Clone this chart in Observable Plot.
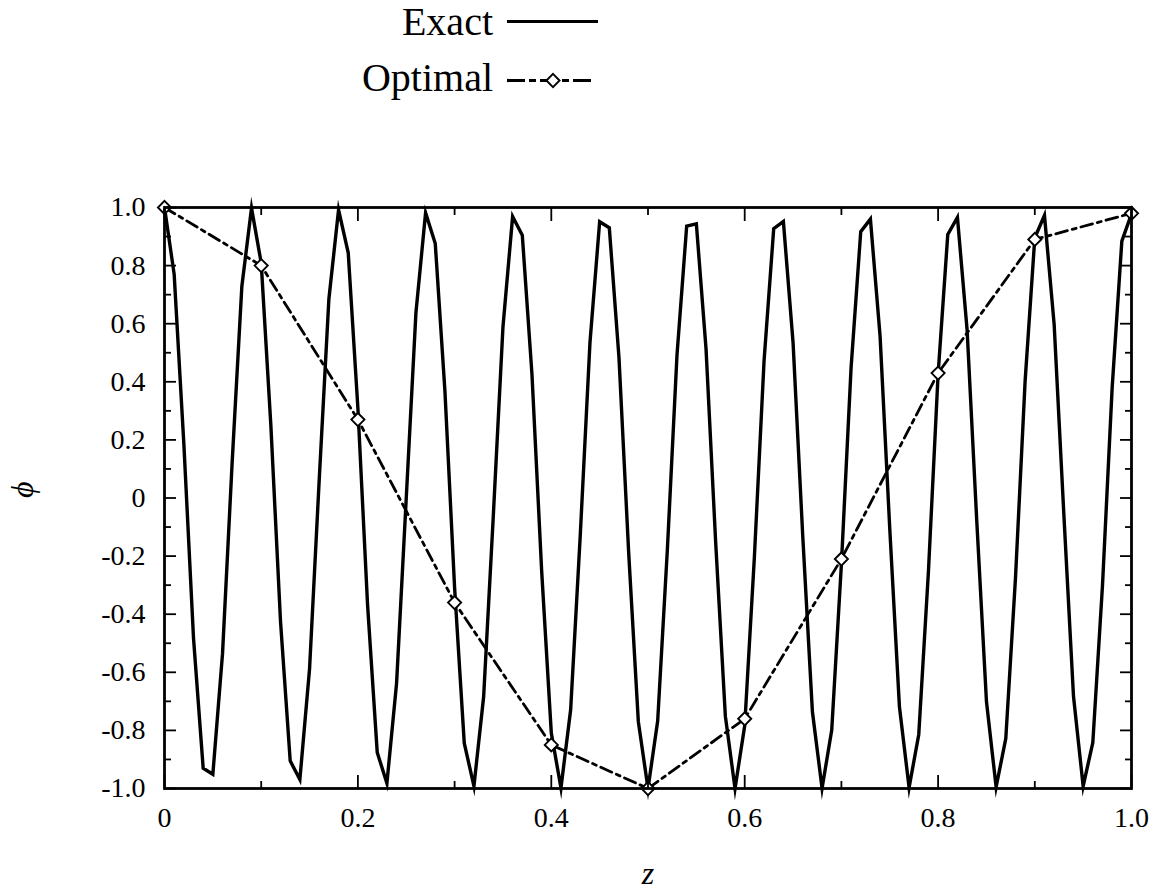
<!DOCTYPE html>
<html>
<head>
<meta charset="utf-8">
<script src="https://cdn.jsdelivr.net/npm/d3@7"></script>
<script src="https://cdn.jsdelivr.net/npm/@observablehq/plot@0.6"></script>
<style>
  html, body { margin: 0; padding: 0; background: #fff; }
  #wrap { position: relative; width: 1153px; height: 895px; font-family: "Liberation Serif", "Times New Roman", serif; }
  #chart, #legend { position: absolute; left: 0; top: 0; }
</style>
</head>
<body>
<div id="wrap">
  <div id="chart"></div>
  <svg id="legend" width="1153" height="110"></svg>
</div>
<script>
// Exact solution, sampled every 0.01 in z
const exactPhi = [
  1.000, 0.770, 0.187, -0.482, -0.930, -0.951, -0.536, 0.125, 0.729, 0.998,
  0.809, 0.249, -0.426, -0.905, -0.969, -0.588, 0.063, 0.685, 0.992, 0.844,
  0.309, -0.368, -0.876, -0.982, -0.637, 0.000, 0.637, 0.982, 0.876, 0.368,
  -0.309, -0.844, -0.992, -0.685, -0.063, 0.588, 0.969, 0.905, 0.426, -0.249,
  -0.809, -0.998, -0.729, -0.125, 0.536, 0.951, 0.930, 0.482, -0.187, -0.770,
  -1.000, -0.768, -0.179, 0.493, 0.936, 0.944, 0.514, -0.154, -0.751, -1.000,
  -0.784, -0.204, 0.471, 0.927, 0.952, 0.536, -0.129, -0.735, -0.999, -0.799,
  -0.228, 0.448, 0.917, 0.960, 0.557, -0.105, -0.718, -0.997, -0.814, -0.253,
  0.426, 0.907, 0.966, 0.578, -0.080, -0.700, -0.995, -0.828, -0.277, 0.403,
  0.896, 0.973, 0.598, -0.054, -0.682, -0.992, -0.842, -0.301, 0.380, 0.884,
  0.978
];
const exactZ = d3.range(exactPhi.length).map(i => i / 100);

// Optimal approximation at the nodes
const optimalZ = [0, 0.1, 0.2, 0.3, 0.4, 0.5, 0.6, 0.7, 0.8, 0.9, 1.0];
const optimalPhi = [1.0, 0.80, 0.27, -0.36, -0.85, -1.0, -0.76, -0.21, 0.43, 0.89, 0.98];

// Tick positions
const xMajor = [0, 0.2, 0.4, 0.6, 0.8, 1.0];
const xMinor = [0.1, 0.3, 0.5, 0.7, 0.9];
const yMajor = [-1.0, -0.8, -0.6, -0.4, -0.2, 0, 0.2, 0.4, 0.6, 0.8, 1.0];
const yMinor = [-0.9, -0.7, -0.5, -0.3, -0.1, 0.1, 0.3, 0.5, 0.7, 0.9];

const legendLabels = ["Exact", "Optimal"];
const xLabel = "z";
const yLabel = "ϕ";

const exact = exactZ.map((z, i) => ({z, phi: exactPhi[i]}));
const optimal = optimalZ.map((z, i) => ({z, phi: optimalPhi[i]}));

const fmt = d => Math.abs(d) < 1e-9 ? "0" : d.toFixed(1);
const font = "'Liberation Serif', 'Times New Roman', serif";
const dashDot = "12,5,4,5";

const tickOpts = {strokeWidth: 1.8, fill: "none", label: null};

const chart = Plot.plot({
  width: 1153,
  height: 895,
  marginTop: 207,
  marginBottom: 107,
  marginLeft: 164,
  marginRight: 22,
  style: {fontFamily: font, background: "white", color: "black"},
  x: {domain: [0, 1]},
  y: {domain: [-1, 1]},
  marks: [
    Plot.line(exact, {x: "z", y: "phi", stroke: "black", strokeWidth: 3.4, strokeLinejoin: "miter", strokeMiterlimit: 10}),
    Plot.line(optimal, {x: "z", y: "phi", stroke: "black", strokeWidth: 2.8, strokeDasharray: dashDot}),
    Plot.dot(optimal, {x: "z", y: "phi", symbol: "diamond2", r: 5.9, fill: "white", stroke: "black", strokeWidth: 1.9}),
    Plot.frame({stroke: "black", strokeWidth: 2.8}),

    // inward ticks on all four sides
    Plot.axisX(xMajor, {anchor: "bottom", tickSize: -13, ...tickOpts}),
    Plot.axisX(xMinor, {anchor: "bottom", tickSize: -7, ...tickOpts}),
    Plot.axisX(xMajor, {anchor: "top", tickSize: -13, ...tickOpts}),
    Plot.axisX(xMinor, {anchor: "top", tickSize: -7, ...tickOpts}),
    Plot.axisY(yMajor, {anchor: "left", tickSize: -12, ...tickOpts}),
    Plot.axisY(yMinor, {anchor: "left", tickSize: -7, ...tickOpts}),
    Plot.axisY(yMajor, {anchor: "right", tickSize: -12, ...tickOpts}),
    Plot.axisY(yMinor, {anchor: "right", tickSize: -7, ...tickOpts}),

    // tick labels
    Plot.axisX(xMajor, {anchor: "bottom", tickSize: 0, tickPadding: 19, tickFormat: fmt, fontSize: 28, label: null}),
    Plot.axisY(yMajor, {anchor: "left", tickSize: 0, tickPadding: 19, tickFormat: fmt, fontSize: 28, label: null}),

    // axis titles
    Plot.text([xLabel], {text: d => d, frameAnchor: "bottom", dy: 95, fontSize: 32, fontStyle: "italic"}),
    Plot.text([yLabel], {text: d => d, frameAnchor: "left", dx: -142, rotate: -90, fontSize: 32, fontStyle: "italic"})
  ]
});
document.getElementById("chart").append(chart);

// Legend: labels on the left, line samples on the right
const lg = d3.select("#legend").style("font-family", font);
const rows = [
  {label: legendLabels[0], base: 35, lineY: 21.5, x2: 598, dash: null, marker: false},
  {label: legendLabels[1], base: 91, lineY: 80.5, x2: 592, dash: "18,4,7,4", marker: true}
];
rows.forEach(r => {
  lg.append("text")
    .attr("x", 493).attr("y", r.base)
    .attr("text-anchor", "end")
    .attr("font-size", 40)
    .attr("fill", "black")
    .text(r.label);
  lg.append("line")
    .attr("x1", 507).attr("x2", r.x2)
    .attr("y1", r.lineY).attr("y2", r.lineY)
    .attr("stroke", "black")
    .attr("stroke-width", 3.2)
    .attr("stroke-dasharray", r.dash);
  if (r.marker) {
    lg.append("path")
      .attr("transform", `translate(553,${r.lineY})`)
      .attr("d", d3.symbol(d3.symbolDiamond2, 5.9 * 5.9 * Math.PI)())
      .attr("fill", "white")
      .attr("stroke", "black")
      .attr("stroke-width", 1.9);
  }
});
</script>
</body>
</html>
